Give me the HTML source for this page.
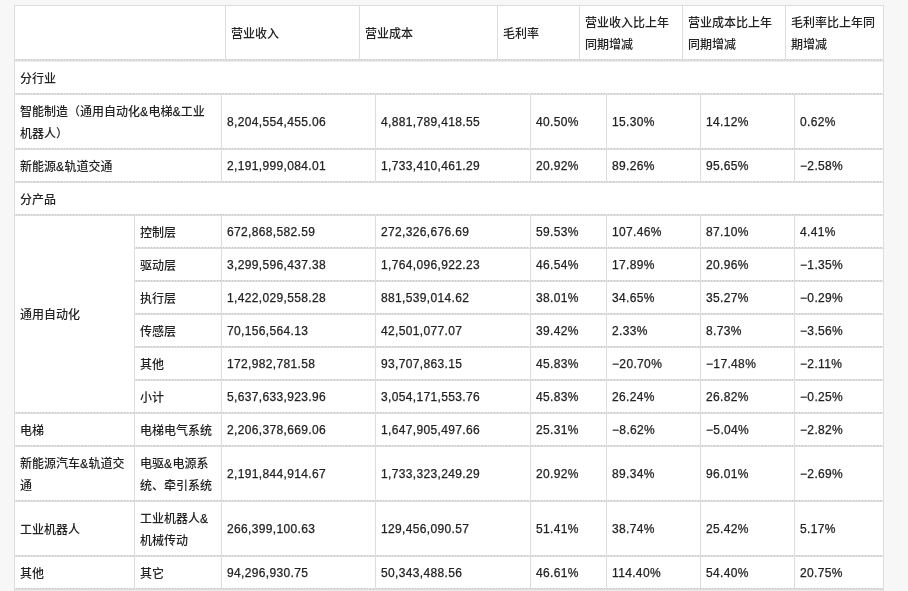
<!DOCTYPE html>
<html lang="zh-CN"><head><meta charset="utf-8"><title>主营业务分行业、分产品情况</title>
<style>
html,body{margin:0;padding:0;}
body{background:#f7f7f7;width:908px;height:591px;overflow:hidden;position:relative;
 font-family:"Liberation Sans","Noto Sans CJK SC",sans-serif;font-size:12px;line-height:22px;color:#222;font-weight:500;}
.wrap{position:absolute;left:14px;top:5px;width:870px;}
table{border-collapse:separate;border-spacing:0;table-layout:fixed;width:870px;background:#fff;
 border-right:1px solid #ddd;box-sizing:border-box;}
td{box-sizing:border-box;border-left:1px solid #ddd;padding:0 0 0 5px;vertical-align:middle;
 white-space:nowrap;overflow:hidden;}
/* numbers and ampersands: slight tracking + weight to mimic the original Latin face */
.n,.a{letter-spacing:0.35px;-webkit-text-stroke:0.25px #222;}
/* header table */
.hd td{height:54px;border-top:1px solid #ddd;padding-top:2px;}
/* body table: each cell draws a dotted line + solid line on its top edge */
.bd td{height:33px;padding-top:4px;
 background:linear-gradient(#dcdcdc,#dcdcdc) 0 1px/100% 1px no-repeat,
 repeating-linear-gradient(90deg,#e4e4e4 0,#e4e4e4 1px,#c4c4c4 1px,#c4c4c4 2px,#e4e4e4 2px,#e4e4e4 3px) 0 0/100% 1px no-repeat;}
.bd td.n{padding-top:2px;}
.bd tr.two td{height:55px;}
.bd tr.first td{height:34px;padding-top:5px;
 background:linear-gradient(#ebebeb,#ebebeb) 0 2px/100% 1px no-repeat,
 linear-gradient(#dcdcdc,#dcdcdc) 0 1px/100% 1px no-repeat,
 repeating-linear-gradient(90deg,#e4e4e4 0,#e4e4e4 1px,#c4c4c4 1px,#c4c4c4 2px,#e4e4e4 2px,#e4e4e4 3px) 0 0/100% 1px no-repeat;}
</style></head>
<body>
<div class="wrap">
<table class="hd"><colgroup><col style="width:211px"><col style="width:134px"><col style="width:138px"><col style="width:82px"><col style="width:103px"><col style="width:103px"><col style="width:98px"></colgroup>
<tr><td></td><td>营业收入</td><td>营业成本</td><td>毛利率</td><td>营业收入比上年<br>同期增减</td><td>营业成本比上年<br>同期增减</td><td>毛利率比上年同<br>期增减</td></tr>
</table>
<table class="bd"><colgroup><col style="width:120px"><col style="width:87px"><col style="width:154px"><col style="width:155px"><col style="width:76px"><col style="width:94px"><col style="width:94px"><col style="width:89px"></colgroup>
<tr class="first"><td colspan="8">分行业</td></tr>
<tr class="two"><td colspan="2">智能制造（通用自动化<span class="a">&amp;</span>电梯<span class="a">&amp;</span>工业<br>机器人）</td><td class="n">8,204,554,455.06</td><td class="n">4,881,789,418.55</td><td class="n">40.50%</td><td class="n">15.30%</td><td class="n">14.12%</td><td class="n">0.62%</td></tr>
<tr><td colspan="2">新能源<span class="a">&amp;</span>轨道交通</td><td class="n">2,191,999,084.01</td><td class="n">1,733,410,461.29</td><td class="n">20.92%</td><td class="n">89.26%</td><td class="n">95.65%</td><td class="n">−2.58%</td></tr>
<tr><td colspan="8">分产品</td></tr>
<tr><td rowspan="6">通用自动化</td><td>控制层</td><td class="n">672,868,582.59</td><td class="n">272,326,676.69</td><td class="n">59.53%</td><td class="n">107.46%</td><td class="n">87.10%</td><td class="n">4.41%</td></tr>
<tr><td>驱动层</td><td class="n">3,299,596,437.38</td><td class="n">1,764,096,922.23</td><td class="n">46.54%</td><td class="n">17.89%</td><td class="n">20.96%</td><td class="n">−1.35%</td></tr>
<tr><td>执行层</td><td class="n">1,422,029,558.28</td><td class="n">881,539,014.62</td><td class="n">38.01%</td><td class="n">34.65%</td><td class="n">35.27%</td><td class="n">−0.29%</td></tr>
<tr><td>传感层</td><td class="n">70,156,564.13</td><td class="n">42,501,077.07</td><td class="n">39.42%</td><td class="n">2.33%</td><td class="n">8.73%</td><td class="n">−3.56%</td></tr>
<tr><td>其他</td><td class="n">172,982,781.58</td><td class="n">93,707,863.15</td><td class="n">45.83%</td><td class="n">−20.70%</td><td class="n">−17.48%</td><td class="n">−2.11%</td></tr>
<tr><td>小计</td><td class="n">5,637,633,923.96</td><td class="n">3,054,171,553.76</td><td class="n">45.83%</td><td class="n">26.24%</td><td class="n">26.82%</td><td class="n">−0.25%</td></tr>
<tr><td>电梯</td><td>电梯电气系统</td><td class="n">2,206,378,669.06</td><td class="n">1,647,905,497.66</td><td class="n">25.31%</td><td class="n">−8.62%</td><td class="n">−5.04%</td><td class="n">−2.82%</td></tr>
<tr class="two"><td>新能源汽车<span class="a">&amp;</span>轨道交<br>通</td><td>电驱<span class="a">&amp;</span>电源系<br>统、牵引系统</td><td class="n">2,191,844,914.67</td><td class="n">1,733,323,249.29</td><td class="n">20.92%</td><td class="n">89.34%</td><td class="n">96.01%</td><td class="n">−2.69%</td></tr>
<tr class="two"><td>工业机器人</td><td>工业机器人<span class="a">&amp;</span><br>机械传动</td><td class="n">266,399,100.63</td><td class="n">129,456,090.57</td><td class="n">51.41%</td><td class="n">38.74%</td><td class="n">25.42%</td><td class="n">5.17%</td></tr>
<tr><td>其他</td><td>其它</td><td class="n">94,296,930.75</td><td class="n">50,343,488.56</td><td class="n">46.61%</td><td class="n">114.40%</td><td class="n">54.40%</td><td class="n">20.75%</td></tr>
<tr class="first"><td colspan="8">&nbsp;</td></tr>
</table>
</div>
</body></html>
